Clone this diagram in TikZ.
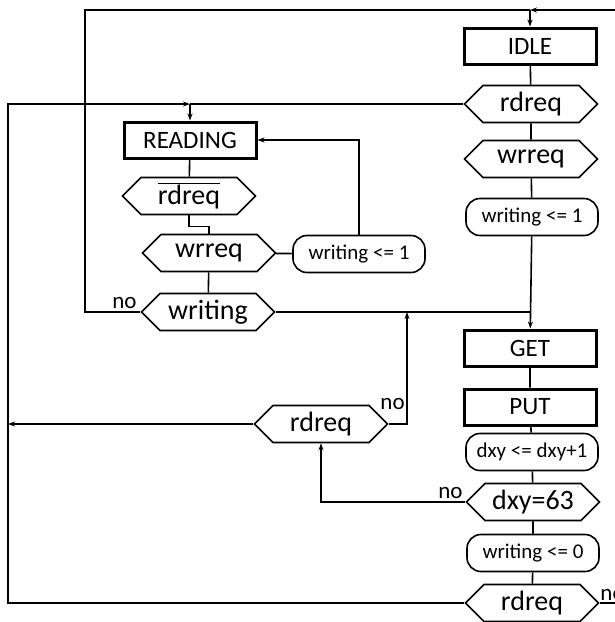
\documentclass[tikz,border=0pt]{standalone}
\usepackage{fontspec}
\setmainfont{Carlito}
\usetikzlibrary{shapes.symbols,arrows.meta}

\newcommand{\negsig}[1]{\ensuremath{\overline{\hbox{#1}}}}

\tikzset{
  statebox/.style={draw, line width=3pt, minimum width=132pt, minimum height=36pt,
    inner sep=0pt, font=\fontsize{25}{28}\selectfont},
  testhex/.style={draw, line width=1.6pt, signal, signal to=west and east,
    signal pointer angle=90, minimum width=133pt, minimum height=37pt,
    inner sep=0pt, font=\fontsize{28}{30}\selectfont},
  actbox/.style={draw, line width=1.6pt, rounded corners=14pt, minimum width=132pt,
    minimum height=37pt, inner sep=0pt, font=\fontsize{21}{24}\selectfont},
  nolbl/.style={inner sep=0pt, font=\fontsize{23}{25}\selectfont},
  arr/.style={-{Stealth[length=7pt,width=5pt]}},
}

\begin{document}
\begin{tikzpicture}[x=1pt, y=-1pt, line width=1.6pt]
    \useasboundingbox (0,0) rectangle (615,622);
    \clip (0,0) rectangle (615,622);

    % Right column: idle, write request, get/put loop
    \node[statebox] (idle) at (530,46) {IDLE};
    \node[testhex] (rdreq1) at (531,104) {rdreq};
    \node[testhex] (wrreq1) at (531,159) {wrreq};
    \node[actbox] (wr1) at (532,217) {writing <= 1};
    \node[statebox] (get) at (530,348) {GET};
    \node[statebox] (put) at (530,407) {PUT};
    \node[actbox] (inc) at (532,452) {dxy <= dxy+1};
    \node[testhex] (dxy) at (533,502) {dxy=63};
    \node[actbox] (wr0) at (533,553) {writing <= 0};
    \node[testhex] (rdreq4) at (532,603) {rdreq};

    % Left column: reading
    \node[statebox] (reading) at (190,140) {READING};
    \node[testhex] (nrdreq) at (189,196) {\negsig{rdreq}};
    \node[testhex] (wrreq2) at (209,253) {wrreq};
    \node[actbox] (wr2) at (359,254) {writing <= 1};
    \node[testhex] (writing) at (208,312) {writing};
    \node[testhex] (rdreq3) at (321,424) {rdreq};

    % Junctions
    \coordinate (top) at (530,10);
    \coordinate (rail) at (8,0);
    \coordinate (jr) at (reading.north |- rdreq1.west);
    \coordinate (jw) at (407,312);

    % Straight chains
    \draw (idle) -- (rdreq1) -- (wrreq1) -- (wr1);
    \draw[arr] (wr1) -- (get);
    \draw (get) -- (put) -- (inc) -- (dxy) -- (wr0) -- (rdreq4);
    \draw (reading) -- (nrdreq);
    \draw (nrdreq.south) -- ++(0,11) -| (wrreq2.north);
    \draw (wrreq2) -- (wr2);
    \draw (wrreq2) -- (writing);

    % Loops back
    \draw[arr] (top) -- (idle);
    \draw (writing.west) -| (85,10) -- (top);
    \draw[arr] (rdreq4.east) -- ++(40,0) |- (top);
    \draw (rdreq1.west) -- (jr);
    \draw[arr] (jr) -- (reading);
    \draw[arr] (rdreq4.west) -| (rail |- jr) -- (jr);
    \draw[arr] (rdreq3.west) -- (rdreq3.west -| rail);
    \draw[arr] (wr2.north) |- (reading.east);
    \draw (writing.east) -- (writing.east -| get.north);
    \draw[arr] (rdreq3.east) -| (jw);
    \draw[arr] (dxy.west) -| (rdreq3.south);

    % Branch labels
    \node[nolbl, anchor=base east] at ([shift={(-3,-4)}]writing.west) {no};
    \node[nolbl, anchor=base west] at ([shift={(-9,-15)}]rdreq3.east) {no};
    \node[nolbl, anchor=base east] at ([shift={(-2,-4)}]dxy.west) {no};
    \node[nolbl, anchor=base west] at ([shift={(0,-3)}]rdreq4.east) {no};
\end{tikzpicture}
\end{document}
